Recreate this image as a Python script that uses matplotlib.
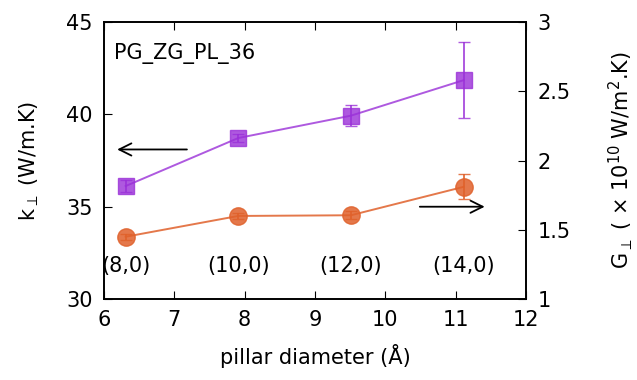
import matplotlib
matplotlib.use("Agg")
import matplotlib.pyplot as plt

diameter = [6.31, 7.91, 9.51, 11.11]
k_perp = [36.12, 38.72, 39.93, 41.85]
k_err = [0.3, 0.22, 0.57, 2.05]
g_perp = [1.45, 1.60, 1.605, 1.81]
g_err = [0.02, 0.02, 0.03, 0.09]
chirality = ["(8,0)", "(10,0)", "(12,0)", "(14,0)"]

purple = "#9a30d8"
orange = "#e0612b"
fs = 15

plt.rcParams['font.family'] = ['DejaVu Sans']
fig = plt.figure(figsize=(6.37, 3.8), dpi=100)
ax = fig.add_axes([0.163, 0.213, 0.663, 0.729])
ax2 = ax.twinx()

ax.errorbar(diameter, k_perp, yerr=k_err, color=purple, marker='s', markersize=12,
            markerfacecolor=purple, markeredgecolor=purple, alpha=0.8, lw=1.4,
            capsize=4, elinewidth=1.4, zorder=3)
ax2.errorbar(diameter, g_perp, yerr=g_err, color=orange, marker='o', markersize=12.5,
             markerfacecolor=orange, markeredgecolor=orange, alpha=0.85, lw=1.4,
             capsize=4, elinewidth=1.4, zorder=3)

ax.set_xlim(6, 12)
ax.set_ylim(30, 45)
ax2.set_ylim(1, 3)
ax.set_xticks(range(6, 13))
ax.set_yticks([30, 35, 40, 45])
ax2.set_yticks([1, 1.5, 2, 2.5, 3])
ax2.set_yticklabels(["1", "1.5", "2", "2.5", "3"])

ax.tick_params(axis='x', direction='in', top=True, length=6, labelsize=fs, pad=8)
ax.tick_params(axis='y', direction='in', length=6, labelsize=fs, pad=8)
ax2.tick_params(axis='y', direction='in', length=6, labelsize=fs, pad=8)
for a in (ax, ax2):
    for s in a.spines.values():
        s.set_linewidth(1.2)

ax.set_xlabel("pillar diameter (Å)", fontsize=fs, labelpad=10)
ax.set_ylabel(r"k$_{\perp}$ (W/m.K)", fontsize=fs, labelpad=18)
ax2.set_ylabel(r"G$_{\perp}$ ( $\times$ 10$^{10}$ W/m$^{2}$.K)", fontsize=fs, labelpad=26)

ax.text(0.025, 0.885, "PG_ZG_PL_36", transform=ax.transAxes, fontsize=fs,
        ha='left', va='center')
for x, lab in zip(diameter, chirality):
    ax.text(x, 31.8, lab, ha='center', va='center', fontsize=fs)

ax.annotate("", xy=(6.15, 38.1), xytext=(7.22, 38.1),
            arrowprops=dict(arrowstyle='->', color='black', lw=1.3, mutation_scale=22))
ax.annotate("", xy=(11.45, 35.0), xytext=(10.45, 35.0),
            arrowprops=dict(arrowstyle='->', color='black', lw=1.3, mutation_scale=22))

fig.savefig("out.png", dpi=100)
